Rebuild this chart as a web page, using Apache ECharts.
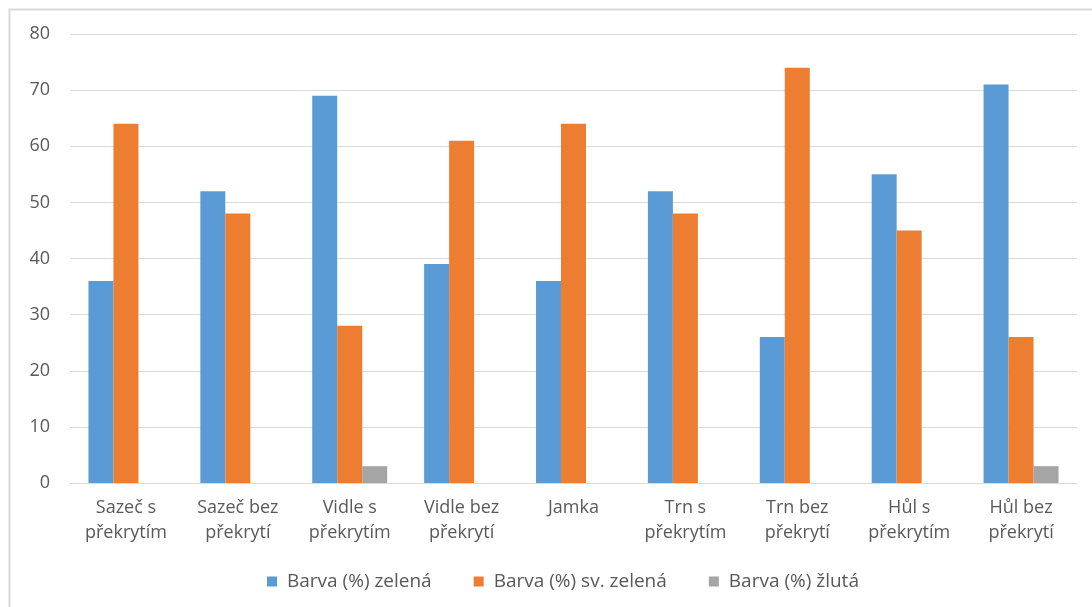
<!DOCTYPE html>
<html>
<head>
<meta charset="utf-8">
<script src="https://cdn.jsdelivr.net/npm/echarts@6/dist/echarts.min.js"></script>
<style>
  html, body { margin: 0; padding: 0; background: #fff; }
  #chart { width: 1092px; height: 607px; }
</style>
</head>
<body>
<div id="chart"></div>
<script>
// Categories (planting methods) and the three colour shares per method
const categories = [
  'Sazeč s\npřekrytím', 'Sazeč bez\npřekrytí', 'Vidle s\npřekrytím',
  'Vidle bez\npřekrytí', 'Jamka', 'Trn s\npřekrytím',
  'Trn bez\npřekrytí', 'Hůl s\npřekrytím', 'Hůl bez\npřekrytí'
];
const seriesNames = ['Barva (%) zelená', 'Barva (%) sv. zelená', 'Barva (%) žlutá'];
const green      = [36, 52, 69, 39, 36, 52, 26, 55, 71];
const lightGreen = [64, 48, 28, 61, 64, 48, 74, 45, 26];
const yellow     = [0, 0, 3, 0, 0, 0, 0, 0, 3];
const yTicks = { min: 0, max: 80, interval: 10 };

const colors = ['#5B9BD5', '#ED7D31', '#A5A5A5'];
const font = 'Open Sans, Noto Sans, sans-serif';

const chart = echarts.init(document.getElementById('chart'), null, { renderer: 'canvas' });
const values = [green, lightGreen, yellow];

chart.setOption({
  animation: false,
  color: colors,
  graphic: [{
    type: 'rect',
    shape: { x: 9.5, y: 9.5, width: 1200, height: 700 },
    style: { fill: 'none', stroke: '#d9d9d9', lineWidth: 2 },
    silent: true,
    z: -1
  }],
  grid: { left: 70, right: 15, top: 34, bottom: 124, containLabel: false },
  legend: {
    top: 567,
    left: 262,
    itemWidth: 10,
    itemHeight: 10,
    itemGap: 42,
    icon: 'rect',
    textStyle: { color: '#595959', fontSize: 19, fontFamily: font, padding: [0, 0, 0, 5] },
    data: seriesNames
  },
  xAxis: {
    type: 'category',
    data: categories,
    axisLine: { lineStyle: { color: '#d9d9d9', width: 1 } },
    axisTick: { show: false },
    axisLabel: {
      color: '#595959', fontSize: 18, fontFamily: font,
      lineHeight: 25, margin: 12, interval: 0
    }
  },
  yAxis: {
    type: 'value',
    min: yTicks.min, max: yTicks.max, interval: yTicks.interval,
    axisLine: { show: false },
    axisTick: { show: false },
    splitLine: { lineStyle: { color: '#d9d9d9', width: 1 } },
    axisLabel: { color: '#595959', fontSize: 18, fontFamily: font, margin: 20 }
  },
  series: seriesNames.map((name, i) => ({
    name,
    type: 'bar',
    data: values[i],
    barGap: '0%',
    barCategoryGap: '33%',
    itemStyle: { color: colors[i] }
  }))
});
</script>
</body>
</html>
